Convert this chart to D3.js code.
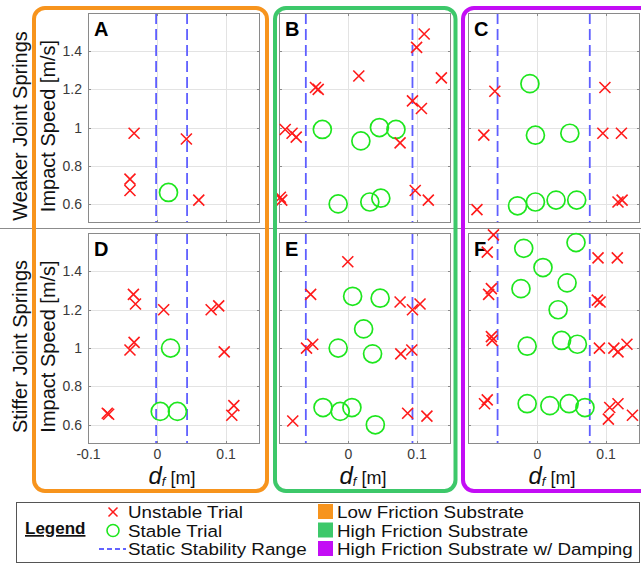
<!DOCTYPE html>
<html>
<head>
<meta charset="utf-8">
<script src="https://cdn.jsdelivr.net/npm/d3@7"></script>
<style>
  body { margin: 0; background: #fff; }
  svg { display: block; font-family: "Liberation Sans", Arial, sans-serif; }
</style>
</head>
<body>
<svg id="chart" width="641" height="564"></svg>
<script>
// ---- data ----
var panelLetters = ["A", "B", "C", "D", "E", "F"];
var rowLabels = ["Weaker Joint Springs", "Stiffer Joint Springs"];
var yLabel = "Impact Speed [m/s]";
var yTicks = [0.6, 0.8, 1, 1.2, 1.4];
var xTicks = [-0.1, 0, 0.1];
var xDomain = [-0.1, 0.15];
var yDomain = [0.5, 1.6];

// static stability range [lower, upper] per panel A..F
var stabilityRanges = [
  [-0.001, 0.044], [-0.061, 0.094], [-0.057, 0.077],
  [-0.001, 0.044], [-0.061, 0.094], [-0.057, 0.077]
];

var unstableA = [[-0.033,0.97],[0.043,0.94],[-0.039,0.73],[-0.039,0.67],[0.061,0.62]];
var stableA   = [[0.017,0.66]];
var unstableB = [[0.111,1.49],[0.100,1.42],[0.016,1.27],[0.136,1.26],[-0.047,1.21],[-0.043,1.20],
                 [0.094,1.14],[0.107,1.10],[-0.091,0.99],[-0.081,0.97],[-0.075,0.95],[0.076,0.92],
                 [-0.098,0.635],[-0.096,0.62],[0.098,0.67],[0.117,0.62]];
var stableB   = [[-0.037,0.99],[0.019,0.93],[0.046,1.00],[0.070,0.99],[-0.014,0.60],[0.032,0.61],[0.048,0.63]];
var unstableC = [[-0.061,1.19],[0.099,1.21],[-0.077,0.96],[0.096,0.97],[0.123,0.97],[-0.087,0.57],
                 [0.118,0.61],[0.124,0.62]];
var stableC   = [[-0.010,1.23],[-0.002,0.96],[0.048,0.97],[-0.028,0.59],[-0.002,0.61],[0.028,0.62],[0.058,0.62]];
var unstableD = [[-0.034,1.28],[-0.031,1.23],[0.010,1.20],[0.079,1.20],[0.090,1.22],[-0.033,1.03],
                 [-0.039,0.99],[0.098,0.98],[-0.072,0.66],[-0.070,0.655],[0.112,0.70],[0.109,0.65]];
var stableD   = [[0.020,1.00],[0.005,0.67],[0.030,0.67]];
var unstableE = [[0.000,1.45],[-0.054,1.28],[0.076,1.24],[0.105,1.23],[0.094,1.20],[-0.060,1.00],
                 [-0.051,1.02],[0.077,0.97],[0.093,0.99],[-0.080,0.62],[0.087,0.66],[0.115,0.645]];
var stableE   = [[0.007,1.27],[0.047,1.26],[0.023,1.10],[-0.014,1.00],[0.036,0.97],[-0.036,0.69],
                 [-0.011,0.67],[0.006,0.69],[0.040,0.60]];
var unstableF = [[-0.063,1.59],[-0.072,1.50],[0.089,1.47],[0.117,1.47],[-0.066,1.31],[-0.070,1.28],
                 [0.088,1.25],[0.092,1.24],[-0.066,1.06],[-0.065,1.04],[0.091,1.00],[0.112,1.00],
                 [0.118,0.98],[0.131,1.02],[-0.072,0.73],[-0.076,0.71],[0.106,0.69],[0.118,0.71],
                 [0.104,0.63],[0.139,0.65]];
var stableF   = [[-0.019,1.52],[0.057,1.55],[0.009,1.42],[0.044,1.34],[-0.023,1.31],[0.031,1.20],
                 [-0.014,1.01],[0.036,1.04],[0.059,1.02],[-0.014,0.71],[0.019,0.70],[0.047,0.71],[0.070,0.69]];

var unstableSets = [unstableA, unstableB, unstableC, unstableD, unstableE, unstableF];
var stableSets = [stableA, stableB, stableC, stableD, stableE, stableF];

var substrateNames = ["Low Friction Substrate", "High Friction Substrate", "High Friction Substrate w/ Damping"];
var substrateColors = ["#f7941d", "#3dc86a", "#c30df5"];
var markerNames = ["Unstable Trial", "Stable Trial", "Static Stability Range"];

// ---- layout ----
var colRanges = [[88, 260], [279, 451], [468, 640]];
var rowRanges = [[223, 13], [444, 233]];
var red = "#ff1a1a", green = "#1ee61e", dashBlue = "#5f5fff";

var svg = d3.select("#chart");

// row separator
svg.append("line")
    .attr("x1", 0).attr("x2", 641).attr("y1", 228.5).attr("y2", 228.5)
    .attr("stroke", "#8c8c8c").attr("stroke-width", 1);

function crossPath(s) {
    return "M" + (-s) + "," + (-s) + "L" + s + "," + s + "M" + (-s) + "," + s + "L" + s + "," + (-s);
}

panelLetters.forEach(function(letter, i) {
    var col = i % 3, row = Math.floor(i / 3);
    var x = d3.scaleLinear().domain(xDomain).range(colRanges[col]);
    var y = d3.scaleLinear().domain(yDomain).range(rowRanges[row]);
    var x0 = x.range()[0], x1 = x.range()[1], y0 = y.range()[1], y1 = y.range()[0];

    var g = svg.append("g").attr("class", "panel");

    // white background
    g.append("rect").attr("x", x0).attr("y", y0).attr("width", x1 - x0).attr("height", y1 - y0)
        .attr("fill", "#fff");

    // grid
    g.selectAll(".gy").data(yTicks).enter().append("line")
        .attr("x1", x0).attr("x2", x1)
        .attr("y1", function(d) { return Math.round(y(d)) + 0.5; })
        .attr("y2", function(d) { return Math.round(y(d)) + 0.5; })
        .attr("stroke", "#e3e3e3").attr("stroke-width", 1);
    g.selectAll(".gx").data([0, 0.1]).enter().append("line")
        .attr("y1", y0).attr("y2", y1)
        .attr("x1", function(d) { return Math.round(x(d)) + 0.5; })
        .attr("x2", function(d) { return Math.round(x(d)) + 0.5; })
        .attr("stroke", "#e3e3e3").attr("stroke-width", 1);

    // static stability range
    g.selectAll(".range").data(stabilityRanges[i]).enter().append("line")
        .attr("x1", function(d) { return x(d); }).attr("x2", function(d) { return x(d); })
        .attr("y1", y0).attr("y2", y1)
        .attr("stroke", dashBlue).attr("stroke-width", 1.8)
        .attr("stroke-dasharray", "11,5");

    // axes box with inner ticks
    g.append("rect").attr("x", x0 + 0.5).attr("y", y0 + 0.5)
        .attr("width", x1 - x0 - 1).attr("height", y1 - y0 - 1)
        .attr("fill", "none").attr("stroke", "#8a8a8a").attr("stroke-width", 1);
    yTicks.forEach(function(t) {
        var yy = Math.round(y(t)) + 0.5;
        g.append("line").attr("x1", x0).attr("x2", x0 + 3).attr("y1", yy).attr("y2", yy).attr("stroke", "#8a8a8a");
        g.append("line").attr("x1", x1 - 3).attr("x2", x1).attr("y1", yy).attr("y2", yy).attr("stroke", "#8a8a8a");
    });
    [0, 0.1].forEach(function(t) {
        var xx = Math.round(x(t)) + 0.5;
        g.append("line").attr("x1", xx).attr("x2", xx).attr("y1", y1 - 3).attr("y2", y1).attr("stroke", "#8a8a8a");
        g.append("line").attr("x1", xx).attr("x2", xx).attr("y1", y0).attr("y2", y0 + 3).attr("stroke", "#8a8a8a");
    });

    // y axis labels (first column only)
    if (col === 0) {
        var ya = g.append("g")
            .attr("transform", "translate(" + x0 + ",0)")
            .call(d3.axisLeft(y).tickValues(yTicks).tickSize(0).tickPadding(6)
                .tickFormat(function(d) { return String(d); }));
        ya.select(".domain").remove();
        ya.selectAll("text").attr("font-size", 14).attr("fill", "#3a3a3a")
            .attr("font-family", "Liberation Sans, Arial, sans-serif");

        var cy = (y0 + y1) / 2 + 8;
        svg.append("text")
            .attr("transform", "translate(55," + cy + ") rotate(-90)")
            .attr("text-anchor", "middle").attr("font-size", 20).attr("fill", "#111")
            .text(yLabel);
        svg.append("text")
            .attr("transform", "translate(27," + cy + ") rotate(-90)")
            .attr("text-anchor", "middle").attr("font-size", 20).attr("fill", "#111")
            .text(rowLabels[row]);
    }

    // x axis labels (bottom row only)
    if (row === 1) {
        var xa = g.append("g")
            .attr("transform", "translate(0," + y1 + ")")
            .call(d3.axisBottom(x).tickValues(col === 0 ? xTicks : xTicks.slice(1)).tickSize(0).tickPadding(5)
                .tickFormat(function(d) { return String(d); }));
        xa.select(".domain").remove();
        xa.selectAll("text").attr("font-size", 14).attr("fill", "#3a3a3a")
            .attr("font-family", "Liberation Sans, Arial, sans-serif");

        var lab = svg.append("text")
            .attr("x", (x0 + x1) / 2 - 2).attr("y", 484)
            .attr("text-anchor", "middle").attr("fill", "#111");
        lab.append("tspan").attr("font-size", 24).attr("font-style", "italic").text("d");
        lab.append("tspan").attr("font-size", 13).attr("font-style", "italic").attr("dy", 2).text("f");
        lab.append("tspan").attr("font-size", 18).attr("dy", -2).text(" [m]");
    }

    // panel letter
    g.append("text").attr("x", x0 + 6).attr("y", y0 + 23)
        .attr("font-size", 20).attr("font-weight", "bold").attr("fill", "#000")
        .text(letter);

    // markers
    g.selectAll(".stable").data(stableSets[i]).enter().append("circle")
        .attr("cx", function(d) { return x(d[0]); })
        .attr("cy", function(d) { return y(d[1]); })
        .attr("r", 9)
        .attr("fill", "none").attr("stroke", green).attr("stroke-width", 1.7);
    g.selectAll(".unstable").data(unstableSets[i]).enter().append("path")
        .attr("transform", function(d) { return "translate(" + x(d[0]) + "," + y(d[1]) + ")"; })
        .attr("d", crossPath(5.5))
        .attr("fill", "none").attr("stroke", red).attr("stroke-width", 1.6);
});

// substrate boxes
var boxes = [[34, 267], [275, 455.5], [463, 652]];
boxes.forEach(function(b, i) {
    svg.append("rect")
        .attr("x", b[0]).attr("y", 8).attr("width", b[1] - b[0]).attr("height", 483)
        .attr("rx", 11).attr("ry", 11)
        .attr("fill", "none").attr("stroke", substrateColors[i]).attr("stroke-width", 4);
});

// ---- legend ----
var lg = svg.append("g").attr("class", "legend");
lg.append("rect").attr("x", 16.5).attr("y", 502.5).attr("width", 623).attr("height", 60)
    .attr("fill", "#fff").attr("stroke", "#555").attr("stroke-width", 1);
lg.append("text").attr("x", 25).attr("y", 534)
    .attr("font-size", 17).attr("font-weight", "bold").attr("text-decoration", "underline")
    .attr("fill", "#111").text("Legend");

var rowYs = [518, 536.5, 555];
lg.append("path").attr("transform", "translate(113," + (rowYs[0] - 6) + ")")
    .attr("d", crossPath(4.5)).attr("stroke", red).attr("stroke-width", 1.5).attr("fill", "none");
lg.append("circle").attr("cx", 113).attr("cy", rowYs[1] - 6).attr("r", 6)
    .attr("fill", "none").attr("stroke", green).attr("stroke-width", 1.6);
lg.append("line").attr("x1", 99).attr("x2", 126).attr("y1", rowYs[2] - 6).attr("y2", rowYs[2] - 6)
    .attr("stroke", "#3030ff").attr("stroke-width", 1.5).attr("stroke-dasharray", "5,3");
lg.selectAll(".mlab").data(markerNames).enter().append("text")
    .attr("transform", function(d, i) { return "translate(128," + rowYs[i] + ") scale(1.14,1)"; })
    .attr("font-size", 16.5).attr("fill", "#111").text(function(d) { return d; });

lg.selectAll(".sw").data(substrateColors).enter().append("rect")
    .attr("x", 318).attr("y", function(d, i) { return rowYs[i] - 14; })
    .attr("width", 15).attr("height", 15).attr("fill", function(d) { return d; });
lg.selectAll(".slab").data(substrateNames).enter().append("text")
    .attr("transform", function(d, i) { return "translate(337," + rowYs[i] + ") scale(1.14,1)"; })
    .attr("font-size", 16.5).attr("fill", "#111").text(function(d) { return d; });
</script>
</body>
</html>
